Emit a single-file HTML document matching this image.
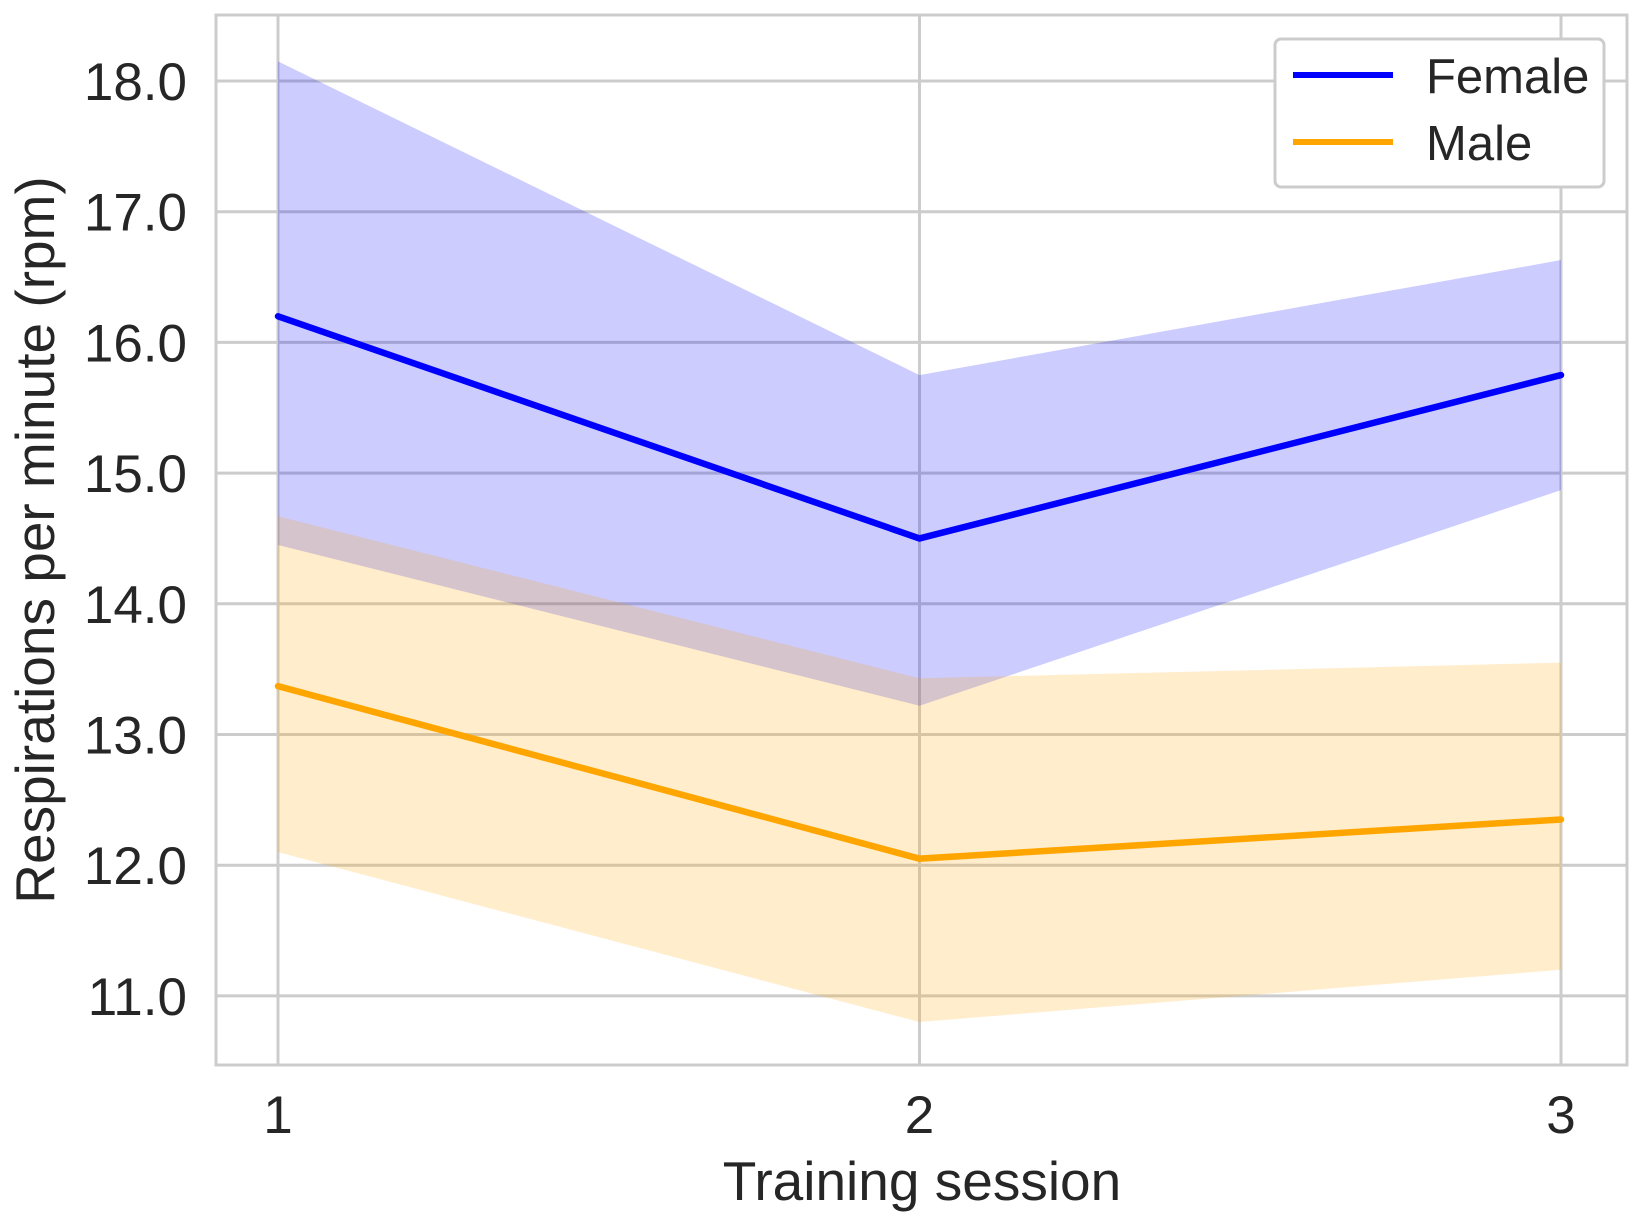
<!DOCTYPE html>
<html><head><meta charset="utf-8"><style>
body{margin:0;background:#fff}
svg{display:block;font-family:"Liberation Sans",Arial,sans-serif}
</style></head><body>
<svg id="chart" width="1641" height="1220" viewBox="0 0 1641 1220">
<g id="grid"></g>
<g id="bands"></g>
<g id="lines"></g>
<rect x="216" y="15" width="1411" height="1050" fill="none" stroke="#cccccc" stroke-width="3"/>
<g id="ticks" fill="#262626" font-size="53"></g>
<text x="922" y="1200" text-anchor="middle" font-size="55" fill="#262626">Training session</text>
<text transform="translate(54,540) rotate(-90)" text-anchor="middle" font-size="55" fill="#262626">Respirations per minute (rpm)</text>
<g>
<rect x="1275" y="39" width="329" height="148" rx="6" fill="#fff" stroke="#cccccc" stroke-width="3"/>
<line x1="1293" y1="75" x2="1393" y2="75" stroke="#0000ff" stroke-width="6"/>
<text x="1426" y="93" font-size="49" fill="#262626">Female</text>
<line x1="1293" y1="142" x2="1393" y2="142" stroke="#ffa500" stroke-width="6"/>
<text x="1426" y="160" font-size="49" fill="#262626">Male</text>
</g>
</svg>
<script>
const sessions = [1, 2, 3];
const yTicks = [11, 12, 13, 14, 15, 16, 17, 18];
const femaleMean = [16.2, 14.5, 15.75];
const femaleUpper = [18.15, 15.75, 16.63];
const femaleLower = [14.45, 13.22, 14.87];
const maleMean = [13.37, 12.05, 12.35];
const maleUpper = [14.67, 13.43, 13.55];
const maleLower = [12.1, 10.8, 11.2];

const NS = 'http://www.w3.org/2000/svg';
const xS = v => 278 + (v - 1) * 641.5;
const yS = v => 81 + (18 - v) * 130.7;
function mk(tag, attrs, parent){const e=document.createElementNS(NS,tag);for(const k in attrs)e.setAttribute(k,attrs[k]);parent.appendChild(e);return e;}
const grid=document.getElementById('grid'), ticks=document.getElementById('ticks');
yTicks.forEach(t=>{
  const l=mk('line',{x1:216,x2:1627,y1:yS(t),y2:yS(t),stroke:'#cccccc','stroke-width':3},grid);
  
  
  const tx=mk('text',{x:187,y:yS(t)+19,'text-anchor':'end'},ticks);
  tx.textContent=t.toFixed(1);
  
  
});
sessions.forEach(s=>{
  const l=mk('line',{x1:xS(s),x2:xS(s),y1:15,y2:1065,stroke:'#cccccc','stroke-width':3},grid);
  
  
  const tx=mk('text',{x:xS(s),y:1133,'text-anchor':'middle'},ticks);
  tx.textContent=String(s);
  
  
});
function band(up,lo,color,name){
  const pts=sessions.map((s,i)=>xS(s)+','+yS(up[i])).concat(sessions.slice().reverse().map((s,j)=>{const i=sessions.length-1-j;return xS(s)+','+yS(lo[i]);}));
  const p=mk('polygon',{points:pts.join(' '),fill:color,'fill-opacity':0.2},document.getElementById('bands'));
  
  
}
function line(m,color,name){
  const p=mk('polyline',{points:sessions.map((s,i)=>xS(s)+','+yS(m[i])).join(' '),fill:'none',stroke:color,'stroke-width':6.5,'stroke-linecap':'round'},document.getElementById('lines'));
  
  
}
band(femaleUpper,femaleLower,'#0000ff','female-ci-band');
band(maleUpper,maleLower,'#ffa500','male-ci-band');
line(femaleMean,'#0000ff','female-line');
line(maleMean,'#ffa500','male-line');
</script>
</body></html>
